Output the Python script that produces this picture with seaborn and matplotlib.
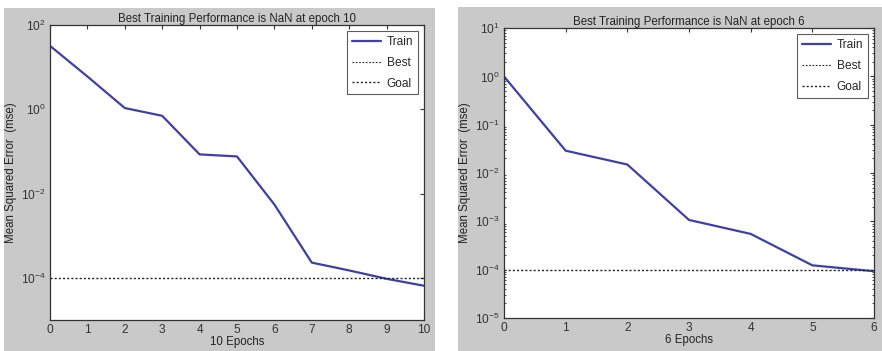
import numpy as np
import pandas as pd
import matplotlib.pyplot as plt
import seaborn as sns
from matplotlib.patches import Rectangle
from matplotlib.ticker import LogLocator, FixedLocator, NullFormatter

# data
epochs_a = [0, 1, 2, 3, 4, 5, 6, 7, 8, 9, 10]
train_a = [32, 6.0, 1.07, 0.70, 0.085, 0.076, 0.0055, 2.3e-4, 1.5e-4, 9.5e-5, 6.5e-5]
epochs_b = [0, 1, 2, 3, 4, 5, 6]
train_b = [1.0, 0.029, 0.015, 1.07e-3, 5.5e-4, 1.23e-4, 9.3e-5]
goal = 1e-4
titles = ["Best Training Performance is NaN at epoch 10",
          "Best Training Performance is NaN at epoch 6"]
xlabels = ["10 Epochs", "6 Epochs"]

sns.set_style("white")
plt.rcParams['font.family'] = ['Liberation Sans', 'DejaVu Sans']
plt.rcParams['mathtext.fontset'] = 'custom'
plt.rcParams['mathtext.rm'] = 'Liberation Sans'
plt.rcParams['mathtext.it'] = 'Liberation Sans'

fig = plt.figure(figsize=(8.82, 3.51), dpi=100, facecolor="white")
gray = "#c9c9c9"
fig.add_artist(Rectangle((0.0045, 0), 0.4885, 0.977, transform=fig.transFigure,
                         facecolor=gray, edgecolor="none", zorder=0))
fig.add_artist(Rectangle((0.519, 0), 0.481, 0.98, transform=fig.transFigure,
                         facecolor=gray, edgecolor="none", zorder=0))

ax1 = fig.add_axes([0.0567, 0.0883, 0.424, 0.8405])
ax2 = fig.add_axes([0.5714, 0.094, 0.4196, 0.826])

blue = "#3f3fa8"
fs = 8.3

setups = [
    (ax1, epochs_a, train_a, (1e-5, 1e2), [1e2, 1e0, 1e-2, 1e-4], False),
    (ax2, epochs_b, train_b, (1e-5, 1e1), [1e1, 1e0, 1e-1, 1e-2, 1e-3, 1e-4, 1e-5], True),
]

for i, (ax, ep, tr, ylim, yt, minor) in enumerate(setups):
    df = pd.DataFrame({"epoch": ep, "mse": tr})
    sns.lineplot(x="epoch", y="mse", data=df, ax=ax, color=blue, lw=1.6, label="Train")
    ax.plot([], [], ls=(0, (1.5, 1.5)), color="#222222", lw=0.8, label="Best")
    ax.axhline(goal, ls=(0, (1.5, 1.5)), color="#222222", lw=1.0, label="Goal")
    ax.set_yscale("log")
    ax.set_ylim(*ylim)
    ax.set_xlim(0, ep[-1])
    ax.set_xticks(ep)
    ax.yaxis.set_major_locator(FixedLocator(yt))
    ax.set_yticklabels([r"$10^{%d}$" % int(np.log10(v)) for v in yt])
    if minor:
        ax.yaxis.set_minor_locator(LogLocator(base=10, subs=np.arange(2, 10)))
        ax.yaxis.set_minor_formatter(NullFormatter())
    else:
        ax.yaxis.set_minor_locator(FixedLocator([]))
    ax.tick_params(direction="in", top=True, right=True, labelsize=8.6, length=3,
                   width=0.8, pad=3, colors="#333333")
    ax.tick_params(which="minor", direction="in", right=True, left=True, length=1.5)
    for s in ax.spines.values():
        s.set_color("#333333")
        s.set_linewidth(0.9)
    ax.set_title(titles[i], fontsize=fs, pad=2, color="#222222")
    ax.set_xlabel(xlabels[i], fontsize=fs, labelpad=0, color="#222222")
    ax.set_ylabel("Mean Squared Error  (mse)", fontsize=fs, labelpad=3, color="#222222")
    leg = ax.legend(loc="upper right", fontsize=8.6, frameon=True, fancybox=False,
                    edgecolor="#333333", handlelength=2.4, handletextpad=0.5,
                    borderpad=0.4, labelspacing=0.75, borderaxespad=0.5)
    leg.get_frame().set_linewidth(0.8)

fig.savefig("out.png", dpi=100, facecolor="white")
